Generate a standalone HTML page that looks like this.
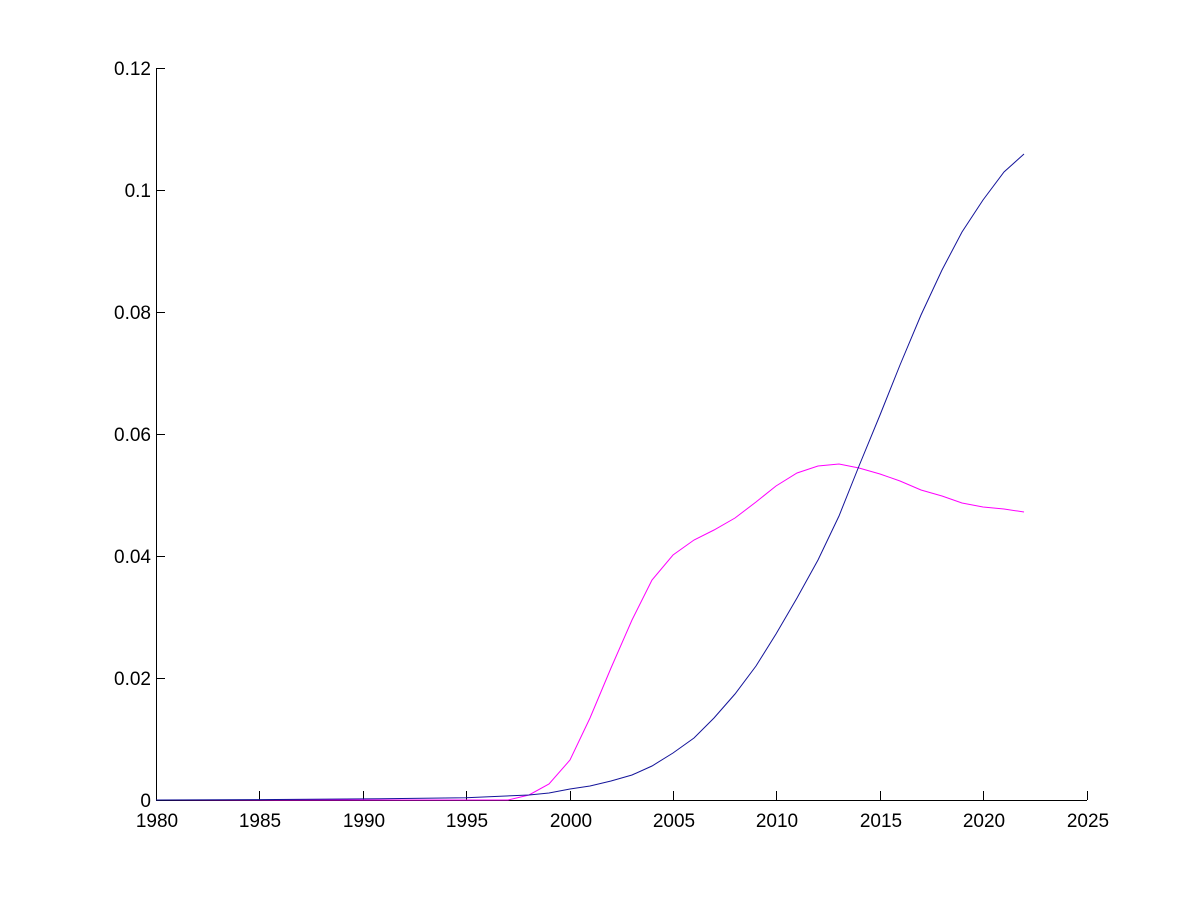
<!DOCTYPE html>
<html><head><meta charset="utf-8"><style>body{margin:0;background:#fff}svg{display:block}</style></head>
<body>
<svg width="1200" height="900" xmlns="http://www.w3.org/2000/svg" font-family="Liberation Sans, sans-serif" font-size="19">
<rect width="1200" height="900" fill="#fff"/>
<g stroke="#000" stroke-width="1" fill="none">
<line x1="156.5" y1="68" x2="156.5" y2="800.5"/>
<line x1="156" y1="800.5" x2="1087" y2="800.5"/>
<path d="M156 68.5h9M156 190.5h9M156 312.5h9M156 434.5h9M156 556.5h9M156 678.5h9"/>
<path d="M259.5 800v-9M363.5 800v-9M466.5 800v-9M570.5 800v-9M673.5 800v-9M776.5 800v-9M880.5 800v-9M983.5 800v-9M1087.5 800v-9"/>
</g>
<g text-anchor="end">
<text x="151" y="75">0.12</text><text x="151" y="197">0.1</text><text x="151" y="319">0.08</text>
<text x="151" y="441">0.06</text><text x="151" y="563">0.04</text><text x="151" y="685">0.02</text><text x="151" y="807">0</text>
</g>
<g text-anchor="middle">
<text x="157" y="827">1980</text><text x="260" y="827">1985</text><text x="364" y="827">1990</text>
<text x="467" y="827">1995</text><text x="571" y="827">2000</text><text x="674" y="827">2005</text>
<text x="777" y="827">2010</text><text x="881" y="827">2015</text><text x="984" y="827">2020</text><text x="1088" y="827">2025</text>
</g>
<polyline fill="none" stroke="#f0f" stroke-width="1" points="156,800 508,800 529,795 549,784 570,760 590,718 611,668 632,620 652,580 673,555 694,540 714,530 735,518 756,502 776,486 797,473 818,466 839,464 859,468 880,474 900,481 921,490 942,496 962,503 983,507 1004,509 1024,512"/>
<polyline fill="none" stroke="#14149a" stroke-width="1" points="156,800 259,799.6 363,798.9 466,797.8 529,795 549,793 570,789 590,786 611,781 632,775 652,766 673,753 694,738 714,718 735,694 756,666 776,634 797,598 818,560 839,516 859,466 880,415 900,365 921,315 942,270 962,232 983,200 1004,172 1024,154"/>
</svg>
</body></html>
